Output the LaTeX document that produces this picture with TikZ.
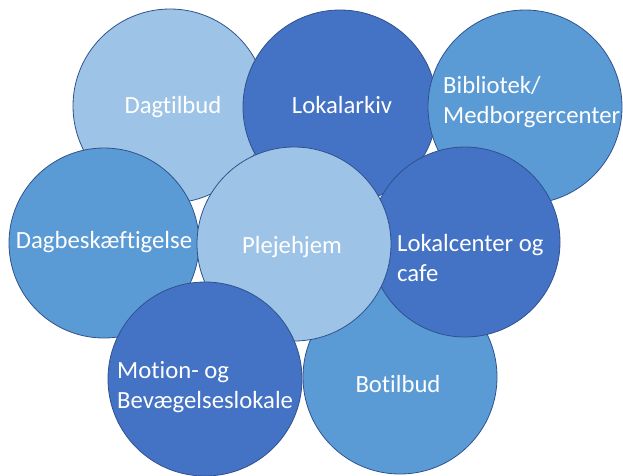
\documentclass[tikz,border=0pt]{standalone}
\usepackage{fontspec}
\setmainfont{Carlito}[Ligatures=NoCommon]
\usepackage{xcolor}
\usepackage{tikz}
\usetikzlibrary{positioning}
\definecolor{lightblue}{HTML}{9DC3E6}
\definecolor{midblue}{HTML}{5B9BD5}
\definecolor{darkblue}{HTML}{4472C4}
\definecolor{rimblue}{HTML}{2F528F}
\tikzset{
    bubble/.style={circle, draw=rimblue, line width=0.8pt, minimum size=194pt, inner sep=0pt},
    lightbubble/.style={bubble, fill=lightblue},
    midbubble/.style={bubble, fill=midblue},
    darkbubble/.style={bubble, fill=darkblue},
    txt/.style={text=white, font=\fontsize{24.7}{30}\selectfont, inner sep=0pt, anchor=base},
    txtleft/.style={txt, align=left, anchor=base west}
}

\begin{document}
\begin{tikzpicture}[x=1pt, y=-1pt]
    % Frame
    \useasboundingbox (0,0) rectangle (623,475);

    % Circles, back to front
    \node[lightbubble] (dagtilbud) at (170,106) {};
    \node[darkbubble] (lokalarkiv) at (340,107) {};
    \node[midbubble] (bibliotek) at (525,107) {};
    \node[midbubble, minimum size=190pt] (dagbeskaeft) at (104,243) {};
    \node[midbubble] (botilbud) at (400,377) {};
    \node[darkbubble, minimum size=190pt] (lokalcenter) at (465,242) {};
    \node[lightbubble] (plejehjem) at (294,244) {};
    \node[darkbubble] (motion) at (205,379) {};

    % Labels (multi-line ones sit on their last baseline)
    \node[txt] (dagtilbudtxt) at (173,113) {Dagtilbud};
    \node[txt] (lokalarkivtxt) at (342,113) {Lokalarkiv};
    \node[txtleft] (bibliotektxt) at (443,123) {Bibliotek/\\Medborgercenter};
    \node[txt] (dagbeskaefttxt) at (104,248) {Dagbeskæftigelse};
    \node[txt] (plejehjemtxt) at (292,253) {Plejehjem};
    \node[txtleft] (lokalcentertxt) at (397,281) {Lokalcenter og\\cafe};
    \node[txtleft] (motiontxt) at (117,408) {Motion- og\\Bevægelseslokale};
    \node[txt] (botilbudtxt) at (398,392) {Botilbud};
\end{tikzpicture}
\end{document}
